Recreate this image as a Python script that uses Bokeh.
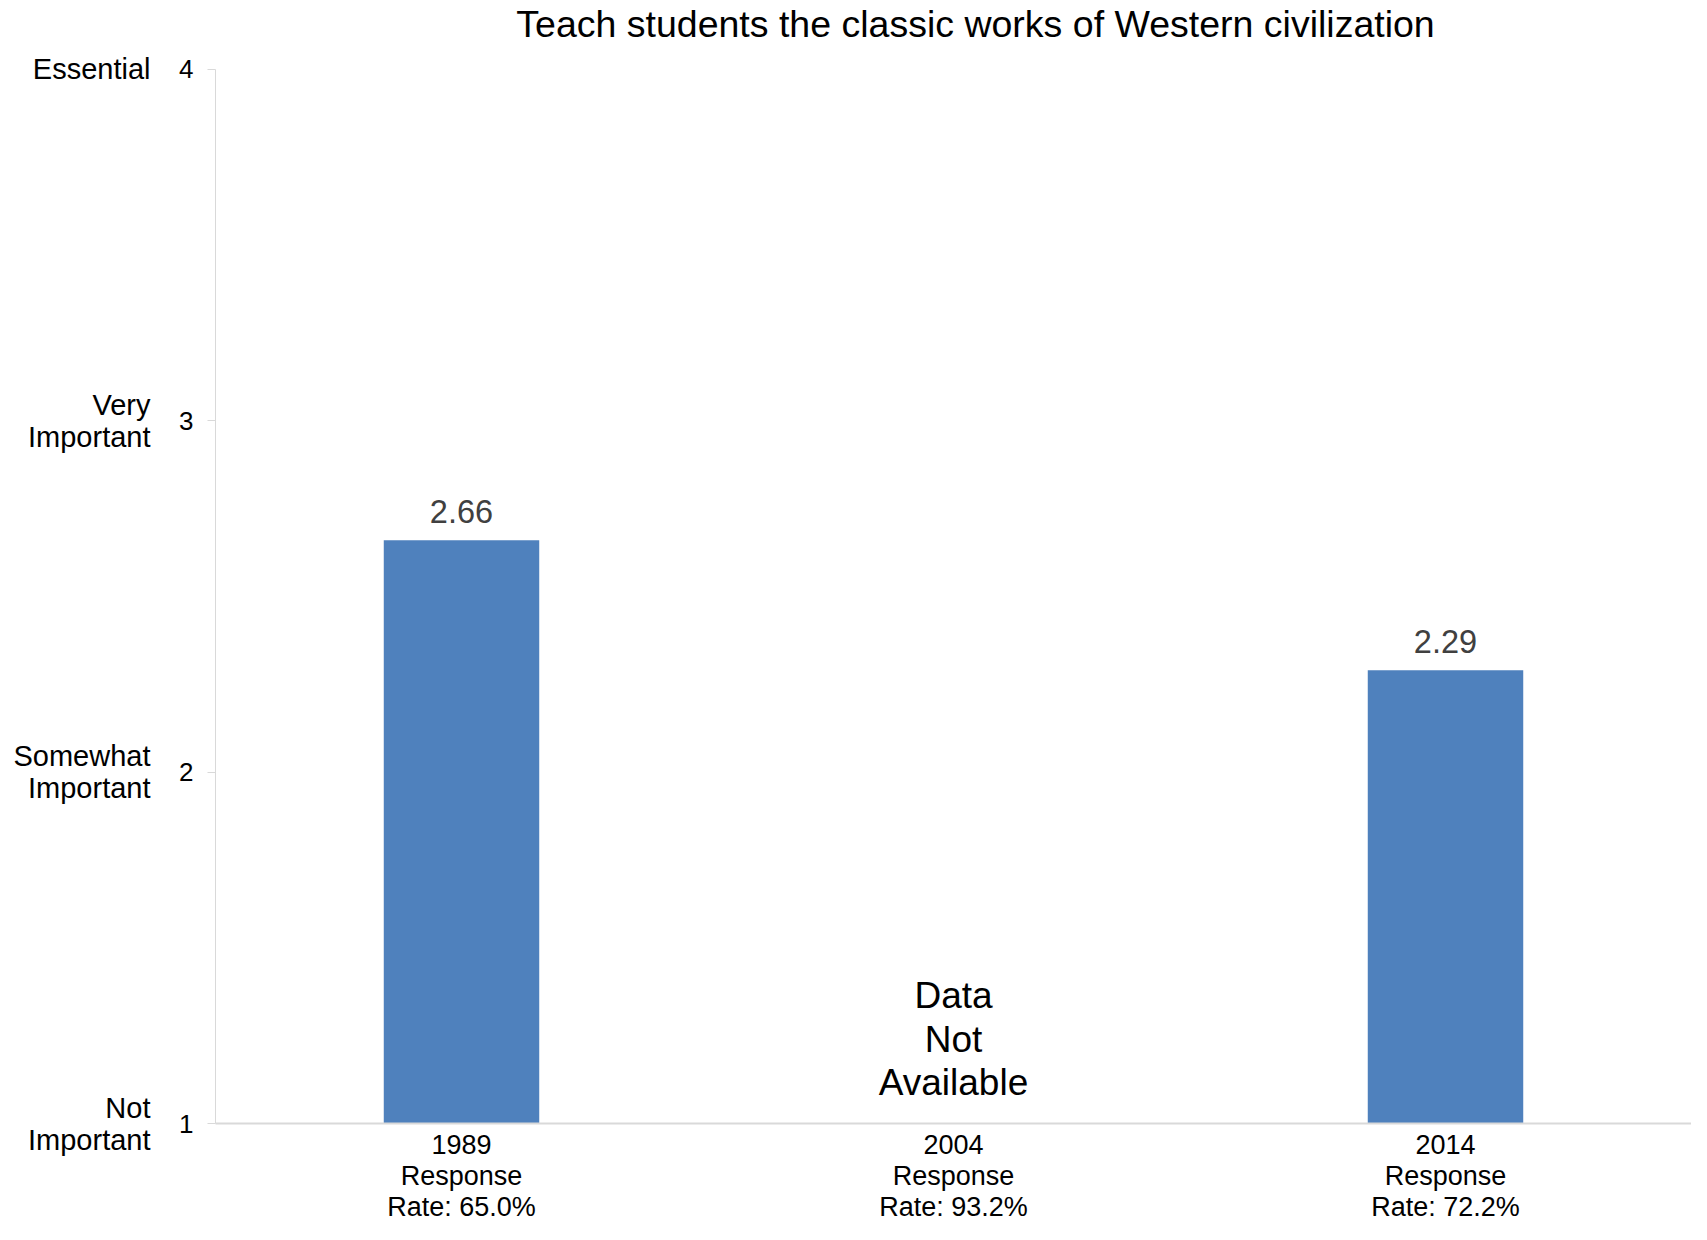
from bokeh.plotting import figure
from bokeh.models import ColumnDataSource, FactorRange, Range1d, LinearAxis, FixedTicker
from bokeh.core.properties import value
from bokeh.embed import file_html
from bokeh.resources import INLINE

# ---- data ----
years = ["1989", "2004", "2014"]
response_rates = ["65.0%", "93.2%", "72.2%"]
scores = [2.66, None, 2.29]
score_ticks = [1, 2, 3, 4]
score_names = ["Not\nImportant", "Somewhat\nImportant", "Very\nImportant", "Essential"]
title_text = "Teach students the classic works of Western civilization"
na_text = "Data\nNot\nAvailable"

FONT = "Liberation Sans"
BAR_COLOR = "#4f81bd"
AXIS_COLOR = "#d9d9d9"

# layout: 352 px per scale unit, 69 px head room above the top tick for the title
PX_PER_UNIT = 352.0
HEAD_PX = 69.0
TITLE_PX = 45.0

cats = [f"{y}\nResponse\nRate: {r}" for y, r in zip(years, response_rates)]
y_lo, y_hi = score_ticks[0], score_ticks[-1]

p = figure(
    width=1691, height=1224,
    x_range=FactorRange(*cats, range_padding=0.0),
    y_range=Range1d(y_lo, y_hi + HEAD_PX / PX_PER_UNIT),
    output_backend="svg", toolbar_location=None,
    min_border_left=215, min_border_right=0, min_border_top=0, min_border_bottom=99,
)
p.outline_line_color = None
p.xgrid.visible = False
p.ygrid.visible = False

# title (inside the head room of the frame)
p.text(x=[cats[1]], y=[y_hi + TITLE_PX / PX_PER_UNIT], text=[title_text], x_offset=22,
       text_font=value(FONT), text_font_size="37.5px", text_color="black",
       text_align="center", text_baseline="middle")

# bars
bx = [c for c, s in zip(cats, scores) if s is not None]
bt = [s for s in scores if s is not None]
src = ColumnDataSource(dict(x=bx, top=bt, lab=[f"{s:.2f}" for s in bt]))
p.vbar(x="x", top="top", bottom=y_lo, width=0.316, source=src,
       fill_color=BAR_COLOR, line_color=None)
p.text(x="x", y="top", text="lab", source=src, text_font=value(FONT),
       text_font_size="32.5px", text_color="#404040", text_align="center",
       text_baseline="middle", y_offset=-29)

# not available note
na_cat = [c for c, s in zip(cats, scores) if s is None]
p.text(x=na_cat, y=[y_lo + 0.057] * len(na_cat), text=[na_text] * len(na_cat),
       text_font=value(FONT), text_font_size="37px", text_color="black",
       text_align="center", text_baseline="bottom", text_line_height=1.07)

# x axis
xa = p.xaxis[0]
xa.major_label_text_font = FONT
xa.major_label_text_font_size = "27px"
xa.major_label_text_line_height = 1.04
xa.major_label_text_color = "black"
xa.major_tick_line_color = None
xa.minor_tick_line_color = None
xa.axis_line_color = AXIS_COLOR
xa.axis_line_width = 2
xa.major_label_standoff = 0

# numeric y axis
ya = p.yaxis[0]
ya.ticker = FixedTicker(ticks=score_ticks)
ya.bounds = (y_lo, y_hi)
ya.major_label_text_font = FONT
ya.major_label_text_font_size = "26px"
ya.major_label_text_color = "black"
ya.axis_line_color = AXIS_COLOR
ya.major_tick_line_color = AXIS_COLOR
ya.major_tick_out = 8
ya.major_tick_in = 0
ya.minor_tick_line_color = None
ya.major_label_standoff = 14

# descriptive y axis
wa = LinearAxis(ticker=FixedTicker(ticks=score_ticks), bounds=(y_lo, y_hi),
                major_label_overrides={t: n for t, n in zip(score_ticks, score_names)})
wa.major_label_text_font = FONT
wa.major_label_text_font_size = "29px"
wa.major_label_text_line_height = 1.0
wa.major_label_text_color = "black"
wa.major_label_text_align = "center"
wa.axis_line_color = None
wa.major_tick_line_color = None
wa.minor_tick_line_color = None
wa.major_label_standoff = 20
p.add_layout(wa, "left")

open("out.html", "w").write(file_html(p, INLINE))
